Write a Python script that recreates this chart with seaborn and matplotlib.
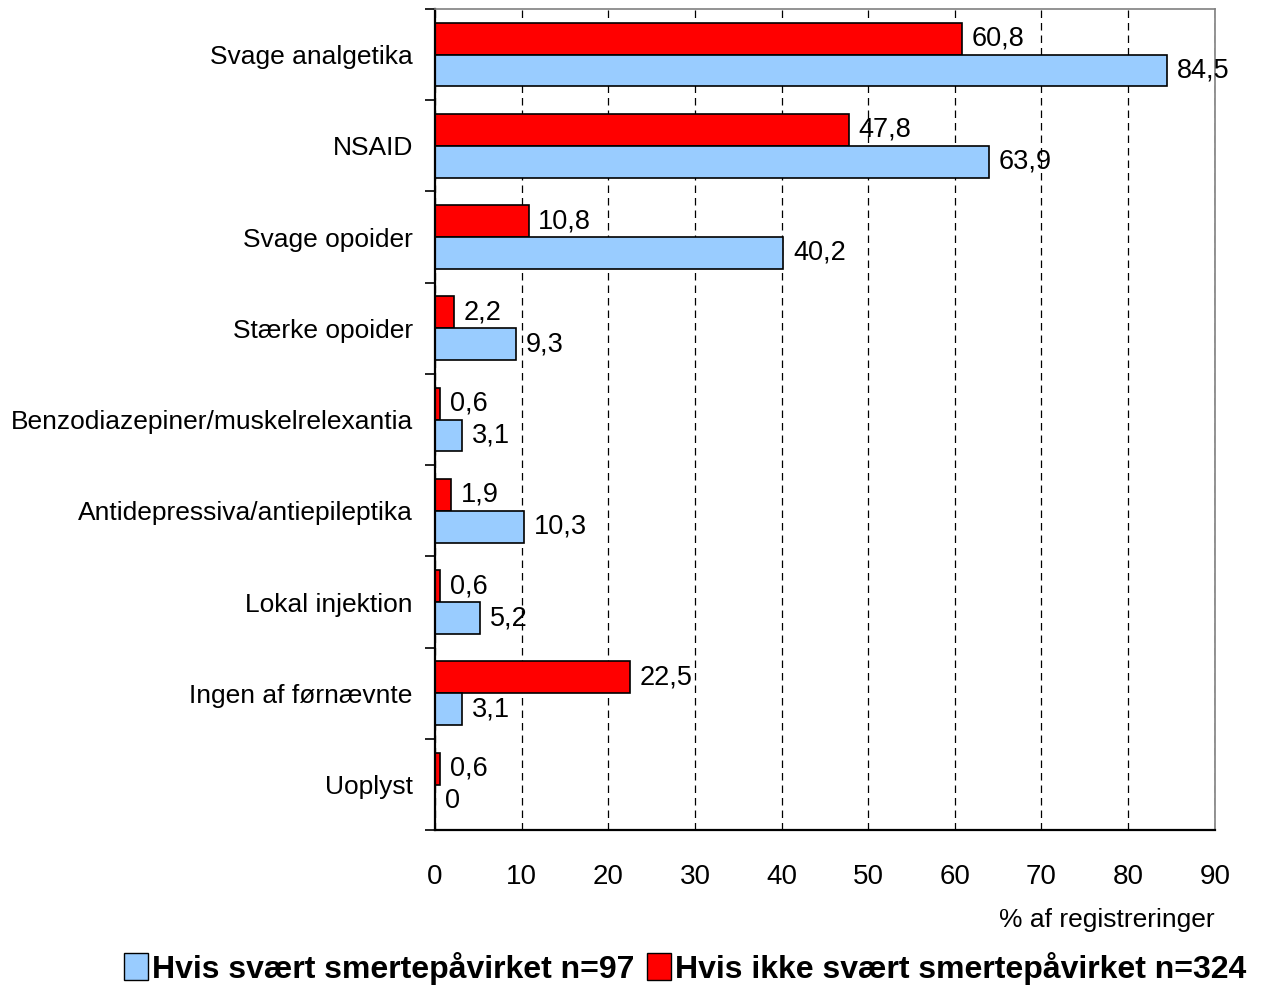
import pandas as pd
import numpy as np
import matplotlib.pyplot as plt
import seaborn as sns
from matplotlib.patches import Patch

# Data
kategorier = ['Svage analgetika', 'NSAID', 'Svage opoider', 'Stærke opoider',
              'Benzodiazepiner/muskelrelexantia', 'Antidepressiva/antiepileptika',
              'Lokal injektion', 'Ingen af førnævnte', 'Uoplyst']
svaert = [84.5, 63.9, 40.2, 9.3, 3.1, 10.3, 5.2, 3.1, 0]
ikke_svaert = [60.8, 47.8, 10.8, 2.2, 0.6, 1.9, 0.6, 22.5, 0.6]
serie_svaert = 'Hvis svært smertepåvirket n=97'
serie_ikke = 'Hvis ikke svært smertepåvirket n=324'

sns.set_theme(style='white')
plt.rcParams['font.family'] = ['Liberation Sans', 'DejaVu Sans']
plt.rcParams.update({'text.color': 'black', 'axes.labelcolor': 'black',
                     'xtick.color': 'black', 'ytick.color': 'black'})

df = pd.DataFrame({
    'Kategori': kategorier * 2,
    'Andel': ikke_svaert + svaert,
    'Gruppe': [serie_ikke] * len(kategorier) + [serie_svaert] * len(kategorier),
})

farver = {serie_ikke: '#FF0000', serie_svaert: '#99CCFF'}

fig = plt.figure(figsize=(12.72, 9.86), dpi=100)
ax = fig.add_axes([0.342, 0.158, 0.613, 0.833])

sns.barplot(data=df, y='Kategori', x='Andel', hue='Gruppe',
            hue_order=[serie_ikke, serie_svaert], order=kategorier,
            palette=farver, saturation=1, orient='h', width=0.7,
            edgecolor='black', linewidth=1.2, legend=False, ax=ax)

# Value labels with comma decimal
for cont in ax.containers:
    labels = []
    for bar in cont:
        v = bar.get_width()
        labels.append(f'{v:.1f}'.replace('.', ',') if v != 0 else '0')
    ax.bar_label(cont, labels=labels, padding=7, fontsize=19.5)

ax.set_xlim(0, 90)
ax.set_ylim(len(kategorier) - 0.5, -0.5)
ax.set_xticks(np.arange(0, 91, 10))
ax.tick_params(axis='x', labelsize=20, length=13, width=1, direction='inout',
               pad=18)
ax.tick_params(axis='y', labelsize=19, length=0, pad=16)

# Boundary ticks between categories
ax.set_yticks(np.arange(-0.5, len(kategorier) + 0.5, 1), minor=True)
ax.tick_params(axis='y', which='minor', length=7, width=1.2,
               direction='out', left=True)

ax.xaxis.grid(True, linestyle=(0, (6, 4)), color='black', linewidth=0.9)
ax.set_axisbelow(True)

for s in ['left', 'bottom']:
    ax.spines[s].set_color('black')
    ax.spines[s].set_linewidth(1.6)
for s in ['top', 'right']:
    ax.spines[s].set_color('#808080')
    ax.spines[s].set_linewidth(1.2)

ax.set_ylabel('')
ax.set_xlabel('% af registreringer', fontsize=19)
ax.xaxis.set_label_coords(1.0, -0.095)
ax.xaxis.label.set_horizontalalignment('right')

handles = [Patch(facecolor=farver[serie_svaert], edgecolor='black', label=serie_svaert),
           Patch(facecolor=farver[serie_ikke], edgecolor='black', label=serie_ikke)]
fig.legend(handles=handles, loc='lower right', bbox_to_anchor=(0.995, -0.018),
           ncol=2, frameon=False, prop={'weight': 'bold', 'size': 23},
           handlelength=0.75, handleheight=0.9, handletextpad=0.12,
           columnspacing=0.4, borderaxespad=0.2)

fig.savefig('out.png', dpi=100)
